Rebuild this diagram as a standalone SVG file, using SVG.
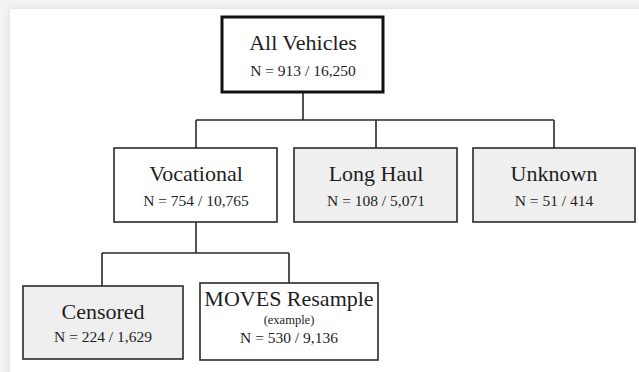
<svg xmlns="http://www.w3.org/2000/svg" width="639" height="372" viewBox="0 0 639 372">
<defs>
<style>
.box{fill:#ffffff;stroke:#2a2a2a;stroke-width:1.6}
.gray{fill:#efefef}
.root{stroke:#111;stroke-width:3}
.t{font-family:"Liberation Serif","Times New Roman",serif;fill:#1e1e1e;text-anchor:middle}
.title{font-size:22px}
.n{font-size:15.5px}
.sm{font-size:12.5px}
.conn{fill:none;stroke:#2a2a2a;stroke-width:1.6}
</style>
<filter id="sh" x="-5%" y="-5%" width="110%" height="110%">
<feGaussianBlur stdDeviation="4"/>
</filter>
</defs>
<rect x="0" y="0" width="639" height="372" fill="#f4f4f4"/>
<rect x="10" y="9" width="640" height="380" fill="#d8d8d8" filter="url(#sh)"/>
<rect x="10" y="9" width="640" height="380" fill="#ffffff"/>

<g id="connectors">
<path class="conn" d="M303 92 V120 M196 120 H554 M196 120 V148 M376 120 V148 M554 120 V148"/>
<path class="conn" d="M196 222 V253 M102 253 H289 M102 253 V286 M289 253 V283"/>
</g>

<g id="all-vehicles">
<rect class="box root" x="222" y="17" width="161" height="75"/>
<text class="t title" x="303" y="50">All Vehicles</text>
<text class="t n" x="303" y="76">N = 913 / 16,250</text>
</g>

<g id="vocational">
<rect class="box" x="114" y="148" width="163" height="74"/>
<text class="t title" x="196" y="181">Vocational</text>
<text class="t n" x="196" y="206">N = 754 / 10,765</text>
</g>

<g id="long-haul">
<rect class="box gray" x="294" y="148" width="163" height="74"/>
<text class="t title" x="376" y="181">Long Haul</text>
<text class="t n" x="376" y="206">N = 108 / 5,071</text>
</g>

<g id="unknown">
<rect class="box gray" x="473" y="148" width="162" height="74"/>
<text class="t title" x="554" y="181">Unknown</text>
<text class="t n" x="554" y="206">N = 51 / 414</text>
</g>

<g id="censored">
<rect class="box gray" x="23" y="286" width="160" height="73"/>
<text class="t title" x="103" y="319">Censored</text>
<text class="t n" x="103" y="342">N = 224 / 1,629</text>
</g>

<g id="moves-resample">
<rect class="box" x="200" y="283" width="178" height="77"/>
<text class="t title" x="289" y="306">MOVES Resample</text>
<text class="t sm" x="289" y="324">(example)</text>
<text class="t n" x="289" y="343">N = 530 / 9,136</text>
</g>
</svg>
